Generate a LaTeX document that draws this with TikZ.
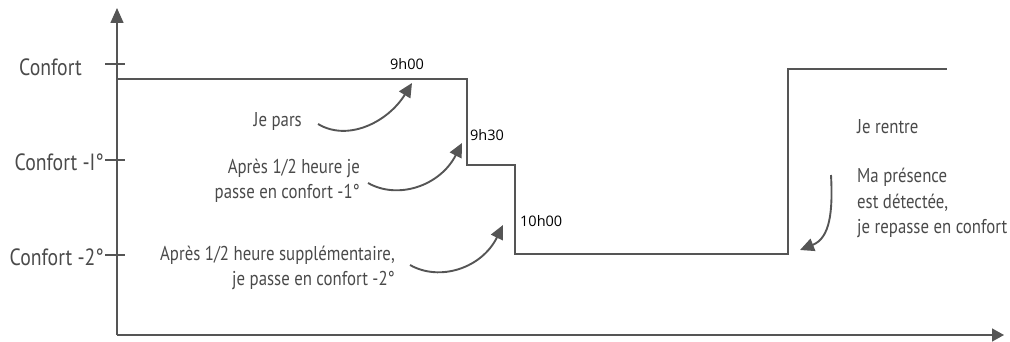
\documentclass[tikz,border=0pt]{standalone}
\usepackage{fontspec}
\setmainfont{PT Sans}[FakeStretch=0.84]
\newfontfamily\timefont{Open Sans}
\usetikzlibrary{arrows.meta}
\definecolor{ink}{HTML}{555555}
\definecolor{txt}{HTML}{4a4a4a}
\tikzset{
  axis/.style={draw=ink, line width=1.5pt},
  level/.style={draw=ink, line width=1.5pt},
  callout/.style={draw=ink, line width=1.9pt, -{Triangle[length=14pt,width=13pt]}},
  lab/.style={text=txt, font=\fontsize{23.5}{24}\selectfont, inner sep=0pt},
  note/.style={text=txt, font=\fontsize{20}{25.5}\selectfont, inner sep=0pt},
  timelab/.style={text=black, font=\timefont\fontsize{14.5}{16}\selectfont, inner sep=0pt}
}
\begin{document}
\begin{tikzpicture}[x=1pt,y=-1pt]
\useasboundingbox (0,0) rectangle (1010,342);
% axes
\coordinate (O) at (117,335);
\coordinate (ytop) at (117,8);
\coordinate (xend) at (1004,335);
\draw[axis,-{Triangle[length=15pt,width=13pt]}] (O) -- (ytop);
\draw[axis,-{Triangle[length=12pt,width=13pt]}] (O) -- (xend);
% ticks
\coordinate (t0a) at (105,64); \coordinate (t0b) at (125,64);
\coordinate (t1a) at (105,160); \coordinate (t1b) at (125,160);
\coordinate (t2a) at (105,255); \coordinate (t2b) at (125,255);
\draw[axis] (t0a) -- (t0b);
\draw[axis] (t1a) -- (t1b);
\draw[axis] (t2a) -- (t2b);
% axis labels
\node[lab,anchor=east] (c0) at (82,67) {Confort};
\node[lab,anchor=east] (c1) at (104,162) {Confort -I°};
\node[lab,anchor=east] (c2) at (104,257) {Confort -2°};
% level curve
\coordinate (s0) at (117,79);
\coordinate (s1) at (467,79);
\coordinate (s2) at (467,165);
\coordinate (s3) at (515,165);
\coordinate (s4) at (515,254);
\coordinate (s5) at (788,254);
\coordinate (s6) at (788,69);
\coordinate (s7) at (947,69);
\draw[level] (s0) -- (s1) -- (s2) -- (s3) -- (s4) -- (s5) -- (s6) -- (s7);
% time labels
\node[timelab] (h900) at (407,64) {9h00};
\node[timelab,anchor=west] (h930) at (470,135) {9h30};
\node[timelab,anchor=west] (h1000) at (520,221) {10h00};
% notes
\node[note,anchor=east] (n1) at (302,122) {Je pars};
\node[note,anchor=east,align=right] (n2) at (360,181) {Après 1/2 heure je\\passe en confort -1°};
\node[note,anchor=east,align=right] (n3) at (395,268) {Après 1/2 heure supplémentaire,\\je passe en confort -2°};
\node[note,anchor=west] (n4) at (857,127) {Je rentre};
\node[note,anchor=west,align=left] (n5) at (857,203) {Ma présence\\est détectée,\\je repasse en confort};
% callout arrows
\coordinate (a1s) at (318,124); \coordinate (a1e) at (412,83);
\coordinate (a2s) at (368,183); \coordinate (a2e) at (462,143);
\coordinate (a3s) at (410,265); \coordinate (a3e) at (503,225);
\coordinate (a4s) at (831,175); \coordinate (a4e) at (800,250);
\draw[callout] (a1s) .. controls (348,142) and (388,122) .. (a1e);
\draw[callout] (a2s) .. controls (398,200) and (440,186) .. (a2e);
\draw[callout] (a3s) .. controls (440,282) and (482,268) .. (a3e);
\draw[callout] (a4s) .. controls (833,212) and (830,238) .. (a4e);
\end{tikzpicture}
\end{document}
